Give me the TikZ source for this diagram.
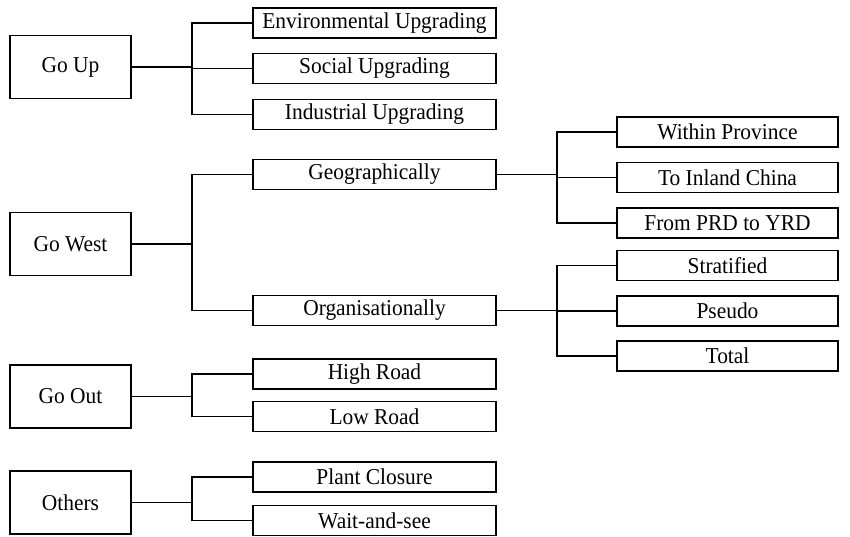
\documentclass[tikz,border=0pt]{standalone}
\usepackage{fontspec}
\setmainfont{Liberation Serif}[FakeStretch=0.945]
\begin{document}
\begin{tikzpicture}[x=0.56pt,y=-0.56pt,line width=0.6pt,font=\fontsize{12.7}{14}\selectfont,
	main/.style={draw,inner sep=0pt,minimum width=121*0.56pt,minimum height=63*0.56pt},
	mid/.style={draw,inner sep=0pt,minimum width=243*0.56pt,minimum height=30*0.56pt},
	leaf/.style={draw,inner sep=0pt,minimum width=221*0.56pt,minimum height=30*0.56pt}]
	\useasboundingbox (0,0) rectangle (850,536);
	% first level
	\node[main] (up) at (70.5,67) {Go Up};
	\node[main] (west) at (70.5,244) {Go West};
	\node[main] (out) at (70.5,396.5) {Go Out};
	\node[main] (oth) at (70.5,502.5) {Others};
	% second level
	\node[mid] (env) at (374.5,23) {Environmental Upgrading};
	\node[mid] (soc) at (374.5,68.5) {Social Upgrading};
	\node[mid] (ind) at (374.5,114.5) {Industrial Upgrading};
	\node[mid] (geo) at (374.5,174.5) {Geographically};
	\node[mid] (org) at (374.5,310.5) {Organisationally};
	\node[mid] (high) at (374.5,374) {High Road};
	\node[mid] (low) at (374.5,416.5) {Low Road};
	\node[mid] (plant) at (374.5,477) {Plant Closure};
	\node[mid] (wait) at (374.5,520.5) {Wait-and-see};
	% third level
	\node[leaf] (prov) at (727.5,132) {Within Province};
	\node[leaf] (inland) at (727.5,177.5) {To Inland China};
	\node[leaf] (prd) at (727.5,223) {From PRD to YRD};
	\node[leaf] (strat) at (727.5,265.5) {Stratified};
	\node[leaf] (pseudo) at (727.5,311) {Pseudo};
	\node[leaf] (total) at (727.5,356) {Total};
	% branch points
	\coordinate (upj) at (192,67);
	\coordinate (westj) at (192,244);
	\coordinate (outj) at (192,396.5);
	\coordinate (othj) at (192,502.5);
	\coordinate (geoj) at (557,174.5);
	\coordinate (orgj) at (557,310.5);
	\draw (up.east)--(upj);
	\draw (upj) |- (env.west) (upj) |- (soc.west) (upj) |- (ind.west);
	\draw (west.east)--(westj);
	\draw (westj) |- (geo.west) (westj) |- (org.west);
	\draw (out.east)--(outj);
	\draw (outj) |- (high.west) (outj) |- (low.west);
	\draw (oth.east)--(othj);
	\draw (othj) |- (plant.west) (othj) |- (wait.west);
	\draw (geo.east)--(geoj);
	\draw (geoj) |- (prov.west) (geoj) |- (inland.west) (geoj) |- (prd.west);
	\draw (org.east)--(orgj);
	\draw (orgj) |- (strat.west) (orgj) |- (pseudo.west) (orgj) |- (total.west);
\end{tikzpicture}
\end{document}
